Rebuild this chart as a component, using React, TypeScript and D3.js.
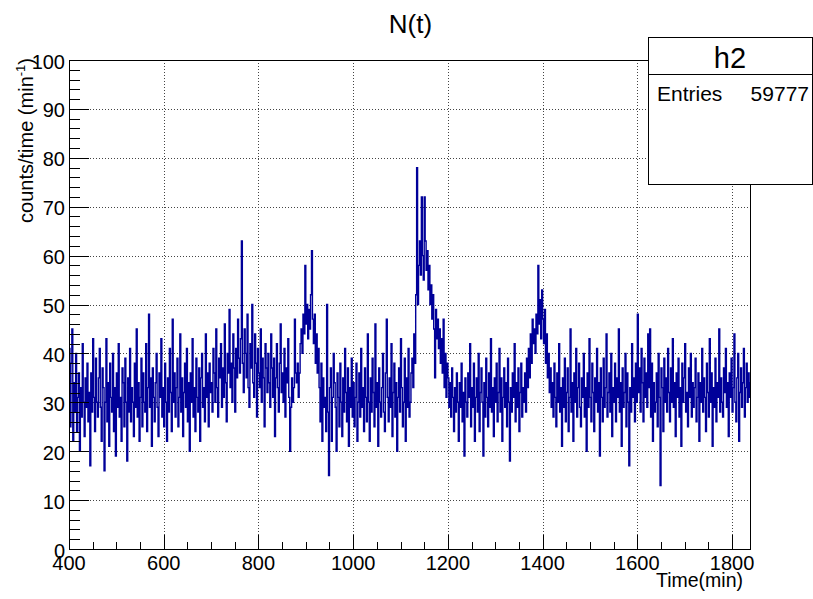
import React from 'react';
import * as d3 from 'd3';

const W = 813;
const H = 599;

const timeStart = 400;
const timeEnd = 1840;
const binWidth = 2;

// counts/time per 2-minute bin, 400..1840 min
const rateValues = [
  41, 25, 38, 45, 22, 34, 28, 40, 24, 31, 36, 20, 33, 27, 42, 30, 23, 35, 29, 38, 26, 32, 17, 36, 28, 43, 31, 24, 39, 30,
  27, 35, 41, 29, 22, 37, 33, 16, 30, 43, 26, 34, 21, 38, 31, 28, 40, 24, 33, 19, 36, 29, 42, 27, 31, 22, 37, 34, 25, 39,
  30, 18, 35, 28, 41, 26, 33, 30, 23, 38, 29, 45, 27, 34, 22, 31, 39, 25, 36, 30, 28, 42, 24, 33, 48, 29, 35, 21, 37, 31,
  26, 34, 40, 29, 23, 36, 31, 43, 27, 33, 25, 38, 30, 22, 35, 28, 41, 32, 24, 47, 30, 36, 27, 33, 39, 25, 31, 44, 28, 35,
  23, 32, 38, 29, 41, 26, 34, 20, 36, 30, 43, 27, 33, 24, 39, 31, 28, 37, 22, 35, 40, 29, 33, 26, 44, 31, 36, 25, 38, 32,
  34, 28, 41, 36, 30, 45, 33, 27, 39, 35, 42, 29, 37, 31, 46, 34, 26, 40, 36, 49, 33, 38, 30, 44, 37, 28, 41, 35, 47, 39,
  36, 43, 63, 38, 32, 45, 40, 35, 48, 33, 29, 42, 37, 50, 34, 31, 44, 38, 27, 41, 36, 33, 45, 30, 39, 35, 25, 42, 37, 32,
  40, 34, 29, 44, 37, 31, 39, 23, 35, 42, 33, 28, 38, 46, 32, 36, 30, 41, 27, 37, 34, 43, 31, 20, 29, 35, 30, 33, 47, 36,
  34, 38, 31, 36, 42, 45, 40, 48, 44, 58, 46, 50, 43, 49, 45, 52, 61, 47, 42, 48, 38, 44, 36, 41, 33, 26, 38, 22, 35, 29,
  31, 24, 50, 28, 15, 33, 37, 22, 31, 40, 34, 29, 20, 36, 31, 25, 38, 30, 23, 35, 28, 41, 32, 26, 37, 21, 33, 29, 39, 27,
  34, 25, 31, 38, 22, 30, 36, 27, 41, 29, 33, 24, 37, 31, 26, 44, 30, 22, 35, 28, 39, 32, 25, 46, 29, 34, 21, 37, 30, 27,
  33, 40, 28, 24, 36, 47, 31, 26, 35, 29, 42, 23, 32, 38, 27, 34, 20, 31, 37, 28, 43, 33, 25, 30, 39, 22, 35, 29, 41, 27,
  30, 36, 39, 33, 44, 38, 52, 78, 50, 58, 63, 56, 72, 60, 55, 72, 63, 57, 61, 53, 58, 50, 54, 47, 52, 45, 35, 49, 43, 47,
  41, 45, 38, 43, 36, 47, 33, 40, 31, 38, 35, 29, 34, 27, 37, 31, 24, 33, 28, 36, 30, 22, 34, 29, 38, 26, 32, 19, 35, 30,
  27, 36, 31, 42, 25, 33, 29, 38, 22, 31, 35, 28, 40, 24, 32, 37, 30, 19, 34, 27, 39, 31, 25, 36, 29, 43, 28, 33, 23, 35,
  30, 38, 26, 32, 41, 28, 35, 22, 31, 37, 29, 34, 25, 39, 30, 18, 33, 28, 36, 31, 42, 26, 34, 29, 37, 24, 32, 38, 27, 33,
  30, 36, 28, 39, 33, 41, 35, 44, 38, 47, 42, 45, 40, 48, 44, 58, 46, 51, 43, 53, 47, 42, 49, 38, 44, 35, 40, 32, 37, 29,
  34, 27, 38, 31, 25, 36, 30, 42, 28, 33, 21, 35, 29, 39, 26, 32, 37, 24, 31, 45, 28, 34, 22, 36, 30, 41, 27, 33, 38, 29,
  25, 35, 31, 40, 27, 33, 20, 36, 29, 43, 31, 26, 38, 32, 24, 35, 30, 41, 28, 34, 19, 37, 31, 26, 39, 29, 33, 44, 27, 32,
  36, 28, 40, 23, 33, 30, 38, 26, 35, 31, 45, 28, 34, 21, 37, 29, 32, 40, 25, 36, 30, 17, 33, 28, 42, 31, 35, 26, 38, 30,
  48, 32, 37, 28, 41, 34, 26, 39, 31, 36, 29, 44, 33, 45, 27, 38, 22, 34, 28, 30, 36, 25, 40, 31, 13, 37, 33, 24, 39, 30,
  35, 28, 41, 32, 26, 37, 30, 43, 29, 34, 23, 36, 31, 39, 27, 33, 21, 38, 30, 35, 42, 28, 32, 25, 37, 31, 40, 27, 34, 29,
  33, 39, 26, 31, 36, 22, 34, 30, 41, 28, 35, 31, 24, 38, 32, 27, 43, 30, 36, 21, 33, 29, 39, 26, 34, 31, 45, 28, 35, 30,
  27, 37, 32, 41, 29, 34, 23, 36, 31, 39, 28, 33, 44, 30, 26, 35, 40, 22, 32, 37, 29, 34, 41, 27, 33, 38, 30, 36, 31, 34,
];

const xTickValues = [400, 600, 800, 1000, 1200, 1400, 1600, 1800];
const yTickValues = [0, 10, 20, 30, 40, 50, 60, 70, 80, 90, 100];
const titleText = 'N(t)';
const xTitle = 'Time(min)';
const yTitleMain = 'counts/time (min';
const yTitleSup = '-1';
const histName = 'h2';
const entriesLabel = 'Entries';
const entriesValue = '59777';

const FONT = '"Liberation Sans", Arial, Helvetica, sans-serif';
const LINE_COLOR = '#000099';

export default function App() {
  const left = 69;
  const right = 751;
  const top = 60;
  const bottom = 549;

  const x = d3.scaleLinear().domain([timeStart, timeEnd]).range([left, right]);
  const y = d3.scaleLinear().domain([0, 100]).range([bottom, top]);

  const pts: [number, number][] = rateValues.map((v, i) => [timeStart + i * binWidth, v]);
  pts.push([timeEnd, rateValues[rateValues.length - 1]]);
  const line = d3
    .line<[number, number]>()
    .x((d) => x(d[0]))
    .y((d) => y(d[1]))
    .curve(d3.curveStepAfter);
  const pathD = line(pts) || '';

  const xMinor = d3.range(timeStart, timeEnd + 1, 50).filter((v) => v % 200 !== 0);
  const yMinor = d3.range(0, 101, 2).filter((v) => v % 10 !== 0);

  const px = (v: number) => Math.round(v) + 0.5;

  return (
    <div style={{ position: 'absolute', left: 0, top: 0, width: W, height: H, background: '#fff' }}>
      <svg width={W} height={H} viewBox={`0 0 ${W} ${H}`} style={{ display: 'block' }} fontFamily={FONT}>
        <rect x={0} y={0} width={W} height={H} fill="#fff" />
        {/* grid */}
        <g stroke="#444" strokeWidth={1} strokeDasharray="1,2">
          {xTickValues
            .filter((v) => v !== timeStart)
            .map((v) => (
              <line key={'gx' + v} x1={px(x(v))} x2={px(x(v))} y1={top} y2={bottom} />
            ))}
          {yTickValues
            .filter((v) => v !== 0 && v !== 100)
            .map((v) => (
              <line key={'gy' + v} x1={left} x2={right} y1={px(y(v))} y2={px(y(v))} />
            ))}
        </g>
        {/* histogram */}
        <path d={pathD} fill="none" stroke={LINE_COLOR} strokeWidth={1.4} />
        {/* frame */}
        <rect x={left + 0.5} y={top + 0.5} width={right - left - 1} height={bottom - top} fill="none" stroke="#000" strokeWidth={1} />
        {/* ticks */}
        <g stroke="#000" strokeWidth={1}>
          {xTickValues.map((v) => (
            <line key={'xt' + v} x1={px(x(v))} x2={px(x(v))} y1={bottom} y2={bottom - 14} />
          ))}
          {xMinor.map((v) => (
            <line key={'xm' + v} x1={px(x(v))} x2={px(x(v))} y1={bottom} y2={bottom - 7} />
          ))}
          {yTickValues.map((v) => (
            <line key={'yt' + v} x1={left} x2={left + 20} y1={px(y(v))} y2={px(y(v))} />
          ))}
          {yMinor.map((v) => (
            <line key={'ym' + v} x1={left} x2={left + 11} y1={px(y(v))} y2={px(y(v))} />
          ))}
        </g>
        {/* tick labels */}
        <g fontSize={20} fill="#000">
          {xTickValues.map((v) => (
            <text key={'xl' + v} x={x(v)} y={570} textAnchor="middle">
              {v}
            </text>
          ))}
          {yTickValues.map((v) => (
            <text key={'yl' + v} x={65} y={y(v) + 8.5} textAnchor="end">
              {v}
            </text>
          ))}
        </g>
        {/* axis titles */}
        <text x={743} y={587} fontSize={19.5} textAnchor="end" fill="#000">
          {xTitle}
        </text>
        <text transform="translate(33,58) rotate(-90)" fontSize={20} textAnchor="end" fill="#000">
          {yTitleMain}
          <tspan fontSize={13} dy={-8}>
            {yTitleSup}
          </tspan>
          <tspan dy={8}>)</tspan>
        </text>
        {/* title */}
        <text x={410.5} y={33} fontSize={26} textAnchor="middle" fill="#000">
          {titleText}
        </text>
        {/* stats box */}
        <rect x={648.5} y={37.5} width={164} height={147} fill="#fff" stroke="#000" strokeWidth={1} />
        <line x1={648.5} x2={813} y1={74.5} y2={74.5} stroke="#000" strokeWidth={1} />
        <text x={730} y={68} fontSize={29} textAnchor="middle" fill="#000">
          {histName}
        </text>
        <text x={657} y={101} fontSize={21} fill="#000">
          {entriesLabel}
        </text>
        <text x={809} y={101} fontSize={21} textAnchor="end" fill="#000">
          {entriesValue}
        </text>
      </svg>
    </div>
  );
}
